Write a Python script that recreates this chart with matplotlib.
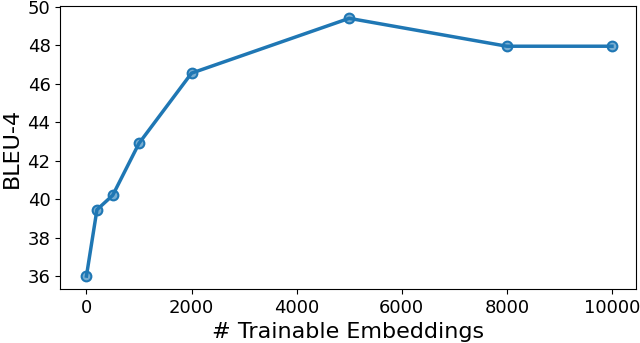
import matplotlib
matplotlib.use("Agg")
import matplotlib.pyplot as plt

# number of trainable embeddings vs BLEU-4
num_embeddings = [0, 200, 500, 1000, 2000, 5000, 8000, 10000]
bleu4 = [36.0, 39.45, 40.2, 42.9, 46.55, 49.4, 47.95, 47.95]
yticks = [36, 38, 40, 42, 44, 46, 48, 50]
xticks = [0, 2000, 4000, 6000, 8000, 10000]

fig, ax = plt.subplots(figsize=(6.4, 3.43), dpi=100)
ax.plot(num_embeddings, bleu4, color="#1f77b4", linewidth=2.5,
        marker="o", markersize=7, markerfacecolor=(0.12, 0.47, 0.71, 0.6),
        markeredgecolor="#1f77b4", markeredgewidth=1.5)

ax.set_xlim(-500, 10460)
ax.set_ylim(35.32, 50.05)
ax.set_xticks(xticks)
ax.set_yticks(yticks)
ax.tick_params(labelsize=13)
ax.set_xlabel("# Trainable Embeddings", fontsize=16)
ax.set_ylabel("BLEU-4", fontsize=16)

fig.subplots_adjust(left=0.094, right=0.994, top=0.983, bottom=0.157)
fig.savefig("out.png", dpi=100)
